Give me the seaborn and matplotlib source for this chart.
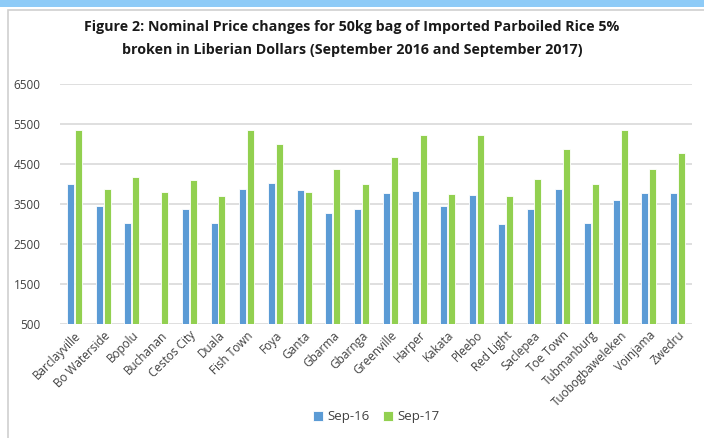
import pandas as pd
import seaborn as sns
import numpy as np
import matplotlib.pyplot as plt
from matplotlib.patches import Rectangle

towns = ['Barclayville', 'Bo Waterside', 'Bopolu', 'Buchanan', 'Cestos City', 'Duala',
         'Fish Town', 'Foya', 'Ganta', 'Gbarma', 'Gbarnga', 'Greenville', 'Harper',
         'Kakata', 'Pleebo', 'Red Light', 'Saclepea', 'Toe Town', 'Tubmanburg',
         'Tuobogbaweleken', 'Voinjama', 'Zwedru']
sep16 = [4000, 3440, 3030, np.nan, 3375, 3030, 3875, 4030, 3860, 3285, 3375, 3775,
         3815, 3440, 3725, 3000, 3375, 3875, 3030, 3600, 3775, 3775]
sep17 = [5350, 3875, 4180, 3800, 4100, 3690, 5350, 5000, 3810, 4375, 4000, 4685,
         5225, 3750, 5225, 3690, 4125, 4875, 4000, 5350, 4375, 4780]
periods = ['Sep-16', 'Sep-17']
colors = ['#5b9bd5', '#92d050']

df = pd.DataFrame({'Town': towns * 2,
                   'Period': [periods[0]] * len(towns) + [periods[1]] * len(towns),
                   'Price': sep16 + sep17})

plt.rcParams['font.family'] = ['Open Sans', 'DejaVu Sans']
fig = plt.figure(figsize=(7.04, 4.38), dpi=100)

# frame decorations
fig.patches.append(Rectangle((0, 1 - 7 / 438), 1, 7 / 438, transform=fig.transFigure,
                             facecolor='#8ecbf7', edgecolor='none', zorder=-2))
fig.patches.append(Rectangle((8 / 704, -0.1), 1.1, 1 - 10 / 438 + 0.1, transform=fig.transFigure,
                             facecolor='none', edgecolor='#d0d0d0', linewidth=1.2, zorder=-2))

ax = fig.add_axes([60 / 704, 1 - 324 / 438, 632 / 704, 240 / 438])
ax.patch.set_alpha(0)
sns.barplot(data=df, x='Town', y='Price', hue='Period', palette=colors, ax=ax,
            width=0.55, gap=0.12, edgecolor='white', linewidth=0.6, saturation=1)

ax.set_ylim(500, 6500)
ax.set_yticks(range(500, 6501, 1000))
ax.set_xlim(-0.5, len(towns) - 0.5)
ax.grid(axis='y', color='#d9d9d9', linewidth=1.2)
ax.set_axisbelow(True)
for s in ax.spines.values():
    s.set_visible(False)
ax.tick_params(length=0, colors='#404040', labelsize=8.5)
ax.tick_params(axis='y', pad=14)
plt.setp(ax.get_xticklabels(), rotation=45, ha='right', rotation_mode='anchor')
ax.set_xlabel('')
ax.set_ylabel('')

ax.legend(loc='upper center', bbox_to_anchor=(0.5, -0.31), ncol=2, frameon=False,
          fontsize=9.5, handlelength=0.8, handleheight=0.8, columnspacing=1.0,
          handletextpad=0.3, labelcolor='#404040')

fig.text(0.5, 1 - 27 / 438, 'Figure 2: Nominal Price changes for 50kg bag of Imported Parboiled Rice 5%',
         ha='center', va='center', fontsize=10.3, fontweight='bold', color='#1a1a1a')
fig.text(0.5, 1 - 50 / 438, 'broken in Liberian Dollars (September 2016 and September 2017)',
         ha='center', va='center', fontsize=10.3, fontweight='bold', color='#1a1a1a')

fig.savefig('out.png', dpi=100)
